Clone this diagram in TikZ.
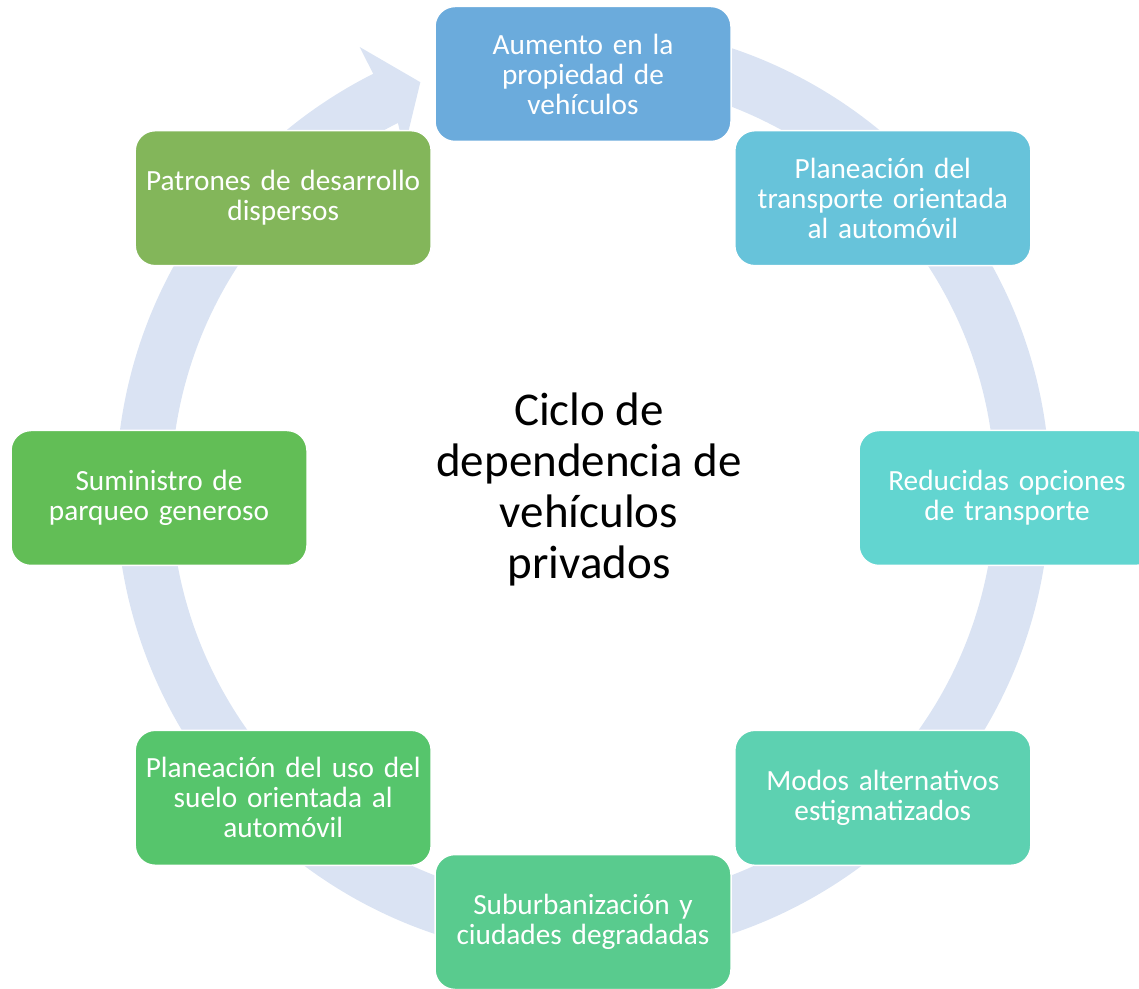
\documentclass[tikz,border=0pt]{standalone}
\usepackage{fontspec}
\setmainfont{Carlito}
\newfontfamily\boxfont{Carlito}[WordSpace=0.6]
\usetikzlibrary{calc}
\definecolor{ringc}{HTML}{DAE3F3}
\definecolor{c1}{HTML}{6BABDC}
\definecolor{c2}{HTML}{67C3DA}
\definecolor{c3}{HTML}{62D5D0}
\definecolor{c4}{HTML}{5DD1B1}
\definecolor{c5}{HTML}{59CB8E}
\definecolor{c6}{HTML}{56C56C}
\definecolor{c7}{HTML}{62BE56}
\definecolor{c8}{HTML}{83B65A}
\begin{document}
\begin{tikzpicture}[x=1pt,y=1pt,
  box/.style={rounded corners=20pt, draw=white, line width=1.5pt,
    minimum width=296pt, minimum height=135pt, text=white, align=center,
    font=\boxfont\fontsize{29.3}{30}\selectfont, inner sep=0pt, text width=292pt},
  title/.style={align=center, font=\fontsize{47}{51}\selectfont, text=black}]
\useasboundingbox (0,0) rectangle (1139,988);
\clip (0,0) rectangle (1139,988);
% circular arrow
\fill[ringc, shift={(583,497)}]
  (88:412) -- (88:467) arc[start angle=88, end angle=-243.3, radius=467]
  -- (116.7:497) -- (111.7:440) -- (117.6:386) -- (116.7:412)
  arc[start angle=-243.3, end angle=88, radius=412] -- cycle;
\coordinate (c) at (583,490);
\node[box, fill=c1] (n1) at ($(c)+(90:424)$) {Aumento en la\\propiedad de\\vehículos};
\node[box, fill=c2] (n2) at ($(c)+(45:424)$) {Planeación del\\transporte orientada\\al automóvil};
\node[box, fill=c3] (n3) at ($(c)+(0:424)$) {Reducidas opciones\\de transporte};
\node[box, fill=c4] (n4) at ($(c)+(-45:424)$) {Modos alternativos\\estigmatizados};
\node[box, fill=c5] (n5) at ($(c)+(-90:424)$) {Suburbanización y\\ciudades degradadas};
\node[box, fill=c6] (n6) at ($(c)+(-135:424)$) {Planeación del uso del\\suelo orientada al\\automóvil};
\node[box, fill=c7] (n7) at ($(c)+(180:424)$) {Suministro de\\parqueo generoso};
\node[box, fill=c8] (n8) at ($(c)+(135:424)$) {Patrones de desarrollo\\dispersos};
\node[title] (t) at (589,499) {Ciclo de\\dependencia de\\vehículos\\privados};
\end{tikzpicture}
\end{document}
